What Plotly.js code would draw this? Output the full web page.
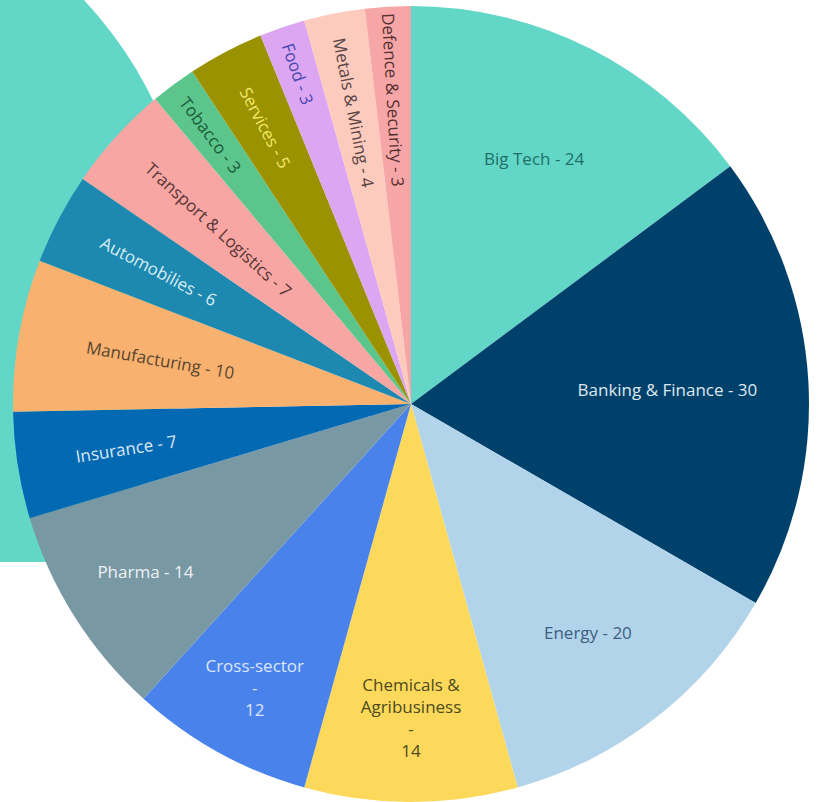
<!DOCTYPE html>
<html>
<head>
<meta charset="utf-8">
<script src="https://cdn.plot.ly/plotly-3.0.1.min.js"></script>
<style>
  html, body { margin: 0; padding: 0; background: #ffffff; }
  #chart { width: 817px; height: 802px; }
</style>
</head>
<body>
<div id="chart"></div>
<script>
// ---- data (clockwise from 12 o'clock) ----
const sectors = [
  "Big Tech", "Banking & Finance", "Energy", "Chemicals & Agribusiness",
  "Cross-sector", "Pharma", "Insurance", "Manufacturing", "Automobilies",
  "Transport & Logistics", "Tobacco", "Services", "Food", "Metals & Mining",
  "Defence & Security"
];
const counts = [24, 30, 20, 14, 12, 14, 7, 10, 6, 7, 3, 5, 3, 4, 3];
// labels that the reference wraps onto several lines
const wrappedNames = { "Chemicals & Agribusiness": "Chemicals &<br>Agribusiness", "Cross-sector": "Cross-sector" };

const sliceColors = [
  "#62d7c7", "#00416c", "#b2d4ea", "#fcd95a", "#4a82ec", "#7898a4", "#0369b3",
  "#f8b16f", "#1e89b0", "#f7a6a3", "#5cc58b", "#9a9200", "#dda6f2", "#fdcbbe", "#f6a6a6"
];
const textColors = [
  "#1f6f68", "#dfe8f0", "#3d5f80", "#4d4a1f", "#dce6fb", "#eef2f4", "#dbe8f5",
  "#5a4630", "#d8eef5", "#5a3535", "#1b5a3a", "#f2e868", "#4848b0", "#5a4545", "#553030"
];

const sliceText = sectors.map((s, i) =>
  wrappedNames[s] ? (wrappedNames[s] + "<br>-<br>" + counts[i]) : (s + " - " + counts[i])
);

const W = 817, H = 802;
const trace = {
  type: "pie",
  labels: sectors,
  values: counts,
  text: sliceText,
  textinfo: "text",
  textposition: "inside",
  insidetextorientation: "auto",
  sort: false,
  direction: "clockwise",
  rotation: 0,
  hoverinfo: "skip",
  marker: { colors: sliceColors, line: { width: 0 } },
  textfont: { family: "'Open Sans', Lato, sans-serif", size: 17, color: textColors },
  domain: { x: [12 / W, 810 / W], y: [0, 1 - 6 / H] }
};

const layout = {
  width: W, height: H,
  margin: { l: 0, r: 0, t: 0, b: 0 },
  paper_bgcolor: "#ffffff",
  showlegend: false,
  shapes: [
    // decorative teal disc behind the pie on the left
    { type: "circle", xref: "paper", yref: "paper", layer: "below",
      x0: -0.7804, x1: 0.2397, y0: 0.1262, y1: 1.1653,
      fillcolor: "#62d7c7", line: { width: 0 } },
    // flat lower cut of the disc
    { type: "rect", xref: "paper", yref: "paper", layer: "below",
      x0: -0.1, x1: 0.35, y0: -0.1, y1: 1 - 562 / H,
      fillcolor: "#ffffff", line: { width: 0 } }
  ]
};

Plotly.newPlot("chart", [trace], layout, { displayModeBar: false, staticPlot: true });
</script>
</body>
</html>
